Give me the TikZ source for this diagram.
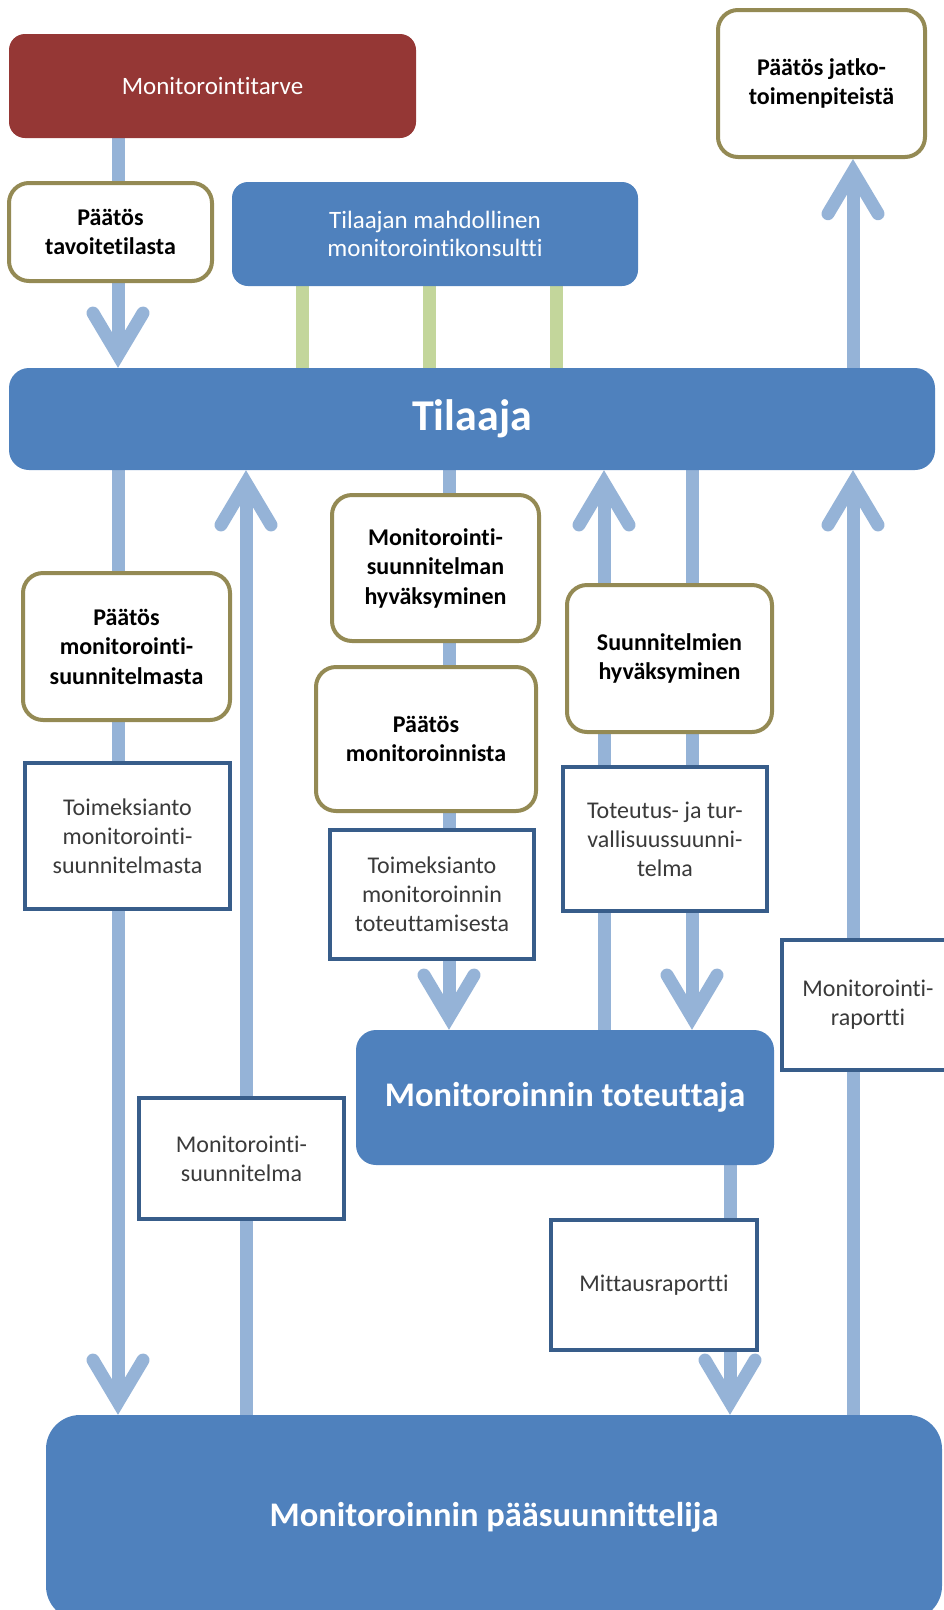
\documentclass[tikz,border=0pt]{standalone}
\usepackage{fontspec}
\setmainfont{Carlito}[Ligatures=NoCommon]
\usetikzlibrary{arrows.meta}
\pgfdeclarelayer{links}
\pgfsetlayers{links,main}

\definecolor{accblue}{HTML}{4F81BD}
\definecolor{flowblue}{HTML}{95B3D7}
\definecolor{linkgreen}{HTML}{C3D69B}
\definecolor{needred}{HTML}{953735}
\definecolor{olivebrown}{HTML}{948A54}
\definecolor{frameblue}{HTML}{385D8A}
\definecolor{doctext}{HTML}{3A3A3A}

\tikzset{
  box/.style={inner sep=0pt, align=center},
  bluebox/.style={box, fill=accblue, rounded corners=18pt, text=white},
  decbox/.style={box, draw=olivebrown, line width=4pt, fill=white, rounded corners=20pt,
     font=\fontsize{24}{29.5}\selectfont\bfseries},
  docbox/.style={box, draw=frameblue, line width=3.5pt, fill=white, text=doctext,
     font=\fontsize{24}{29}\selectfont},
  flow/.style={draw=flowblue, line width=13pt,
     -{Straight Barb[length=42pt,width=50pt,line cap=round]}},
  link/.style={draw=linkgreen, line width=13pt},
}

\begin{document}
\begin{tikzpicture}[x=1pt,y=-1pt]
\useasboundingbox (0,0) rectangle (944,1610);

% lane positions of the vertical flows
\coordinate (cA) at (118,0);
\coordinate (cB) at (246,0);
\coordinate (cC) at (449,0);
\coordinate (cD) at (604,0);
\coordinate (cE) at (692,0);
\coordinate (cF) at (730,0);
\coordinate (cG) at (853,0);
\coordinate (g1) at (302,0);
\coordinate (g2) at (429,0);
\coordinate (g3) at (556,0);

% top row
\node[bluebox, fill=needred, rounded corners=16pt, minimum width=407pt, minimum height=104pt,
      font=\fontsize{25}{29}\selectfont] (tarve) at (212.5,86) {Monitorointitarve};
\node[decbox, minimum width=207pt, minimum height=147pt] (jatko) at (821.5,83.5)
      {Päätös jatko-\\toimenpiteistä};
\node[decbox, minimum width=203pt, minimum height=98pt] (tavoite) at (110.5,232)
      {Päätös\\tavoitetilasta};
\node[bluebox, rounded corners=16pt, minimum width=406pt, minimum height=104pt,
      font=\fontsize{25}{28}\selectfont] (kons) at (435,234)
      {Tilaajan mahdollinen\\monitorointikonsultti};

% client
\node[bluebox, rounded corners=20pt, minimum width=926pt, minimum height=102pt,
      font=\fontsize{44}{50}\selectfont\bfseries] (tilaaja) at (472,419) {Tilaaja};

% decisions and documents between the client and the others
\node[decbox, minimum width=207pt, minimum height=147pt] (pmsuunn) at (126.5,646.5)
      {Päätös\\monitorointi-\\suunnitelmasta};
\node[docbox, minimum width=205pt, minimum height=146pt] (toim1) at (127.5,836)
      {Toimeksianto\\monitorointi-\\suunnitelmasta};
\node[decbox, minimum width=207pt, minimum height=146pt] (hyvaks) at (435.5,568)
      {Monitorointi-\\suunnitelman\\hyväksyminen};
\node[decbox, minimum width=220pt, minimum height=144pt] (pmon) at (426,739)
      {Päätös\\monitoroinnista};
\node[docbox, minimum width=204pt, minimum height=129pt] (toim2) at (432,894.5)
      {Toimeksianto\\monitoroinnin\\toteuttamisesta};
\node[decbox, minimum width=205pt, minimum height=147pt] (shyv) at (669.5,658.5)
      {Suunnitelmien\\hyväksyminen};
\node[docbox, minimum width=204pt, minimum height=144pt] (totsuun) at (665,839)
      {Toteutus- ja tur-\\vallisuussuunni-\\telma};
\node[docbox, minimum width=172pt, minimum height=130pt] (mraportti) at (868,1005)
      {Monitorointi-\\raportti};

% contractor
\node[bluebox, rounded corners=20pt, minimum width=418pt, minimum height=135pt,
      font=\fontsize{34.5}{40}\selectfont\bfseries] (toteuttaja) at (565,1097.5)
      {Monitoroinnin toteuttaja};
\node[docbox, minimum width=205pt, minimum height=121pt] (msuunn) at (241.5,1158.5)
      {Monitorointi-\\suunnitelma};
\node[docbox, minimum width=206pt, minimum height=130pt] (mittaus) at (654,1285)
      {Mittausraportti};

% lead designer
\node[bluebox, rounded corners=34pt, minimum width=896pt, minimum height=205pt,
      font=\fontsize{34.5}{40}\selectfont\bfseries] (paa) at (494,1517.5)
      {Monitoroinnin pääsuunnittelija};

\begin{pgfonlayer}{links}
  \draw[link] (kons.south -| g1) -- (tilaaja.north -| g1);
  \draw[link] (kons.south -| g2) -- (tilaaja.north -| g2);
  \draw[link] (kons.south -| g3) -- (tilaaja.north -| g3);

  \draw[flow] (tarve.south -| cA) -- (tilaaja.north -| cA);
  \draw[flow] (tilaaja.north -| cG) -- (jatko.south -| cG);

  \draw[flow] (tilaaja.south -| cA) -- (paa.north -| cA);
  \draw[flow] (paa.north -| cB) -- (tilaaja.south -| cB);
  \draw[flow] (tilaaja.south -| cC) -- (toteuttaja.north -| cC);
  \draw[flow] (toteuttaja.north -| cD) -- (tilaaja.south -| cD);
  \draw[flow] (tilaaja.south -| cE) -- (toteuttaja.north -| cE);
  \draw[flow] (toteuttaja.south -| cF) -- (paa.north -| cF);
  \draw[flow] (paa.north -| cG) -- (tilaaja.south -| cG);
\end{pgfonlayer}
\end{tikzpicture}
\end{document}
